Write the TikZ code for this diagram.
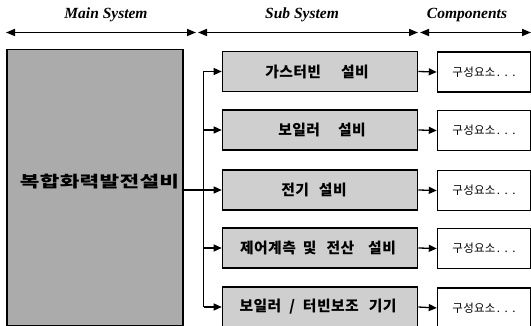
\documentclass[tikz,border=0pt]{standalone}
\usepackage{fontspec}
\setmainfont{Liberation Serif}
\newfontfamily\krsub[LetterSpace=3]{Noto Sans CJK KR}
\newfontfamily\krmain[LetterSpace=2,FakeStretch=1.35]{Noto Sans CJK KR}
\newfontfamily\krcomp[LetterSpace=2]{Noto Sans CJK KR}
\usetikzlibrary{arrows.meta}
\definecolor{mainfill}{HTML}{ABABAB}
\definecolor{subfill}{HTML}{CFCFCF}
\newcommand{\wsp}[1]{\hspace*{#1pt}}
\newcommand{\mydots}{\hspace*{1.5pt}.\hspace*{4.5pt}.\hspace*{4.5pt}.}
\tikzset{
  x=1pt,y=-1pt,
  mainbox/.style={draw=black,line width=1.6pt,fill=mainfill,minimum width=176pt,minimum height=276pt,inner sep=0pt},
  subbox/.style={draw=black,line width=1.6pt,fill=subfill,minimum width=195pt,minimum height=40pt,inner sep=0pt},
  subtext/.style={inner sep=0pt,font=\krsub\bfseries\fontsize{14.8}{15}\selectfont},
  compbox/.style={draw=black,line width=1.4pt,fill=white,minimum width=93pt,minimum height=40pt,inner sep=0pt,font=\krcomp\fontsize{11.5}{12}\selectfont},
  conn/.style={line width=1.3pt,-{Triangle[length=8pt,width=7pt]}},
  trunkline/.style={line width=1.3pt},
  header/.style={font=\bfseries\itshape\fontsize{15.5}{16}\selectfont,inner sep=0pt},
  hdrarrow/.style={line width=1.6pt,{Triangle[length=9pt,width=7pt]}-{Triangle[length=9pt,width=7pt]}},
  maintext/.style={font=\krmain\bfseries\fontsize{15.8}{17}\selectfont,inner sep=0pt}
}
\begin{document}
\begin{tikzpicture}
\useasboundingbox (0,0) rectangle (531,326);
% headers
\node[header] (hmain) at (106,15) {Main System};
\node[header] (hsub) at (302,15) {Sub System};
\node[header] (hcomp) at (467,15) {Components};
\coordinate (a1) at (6,32.5);
\coordinate (a2) at (196,32.5);
\coordinate (b1) at (198,32.5);
\coordinate (b2) at (418,32.5);
\coordinate (c1) at (420,32.5);
\coordinate (c2) at (531,32.5);
\draw[hdrarrow] (a1) -- (a2);
\draw[hdrarrow] (b1) -- (b2);
\draw[hdrarrow] (c1) -- (c2);
% main
\node[mainbox] (main) at (95,187.5) {};
\node[maintext] (mtext) at (99.5,182) {복합화력발전설비};
% sub boxes
\node[subbox] (s1) at (320,71.5) {};
\node[subbox] (s2) at (320,130) {};
\node[subbox] (s3) at (320,190) {};
\node[subbox] (s4) at (320,248) {};
\node[subbox] (s5) at (320,307) {};
\node[subtext] (t1) at (317,71.5) {가스터빈\wsp{20}설비};
\node[subtext] (t2) at (322,130) {보일러\wsp{18}설비};
\node[subtext] (t3) at (314,190) {전기\wsp{10}설비};
\node[subtext] (t4) at (318,248) {제어계측\wsp{7}및\wsp{10}전산\wsp{14}설비};
\node[subtext] (t5) at (318,307) {보일러\wsp{8}/\wsp{8}터빈보조\wsp{10}기기};
% component boxes
\node[compbox] (k1) at (484,72) {구성요소\mydots};
\node[compbox] (k2) at (484,130.5) {구성요소\mydots};
\node[compbox] (k3) at (484,190.5) {구성요소\mydots};
\node[compbox] (k4) at (484,248.5) {구성요소\mydots};
\node[compbox] (k5) at (484,308) {구성요소\mydots};
% trunk
\coordinate (tx) at (203.5,0);
\draw[trunkline] (tx |- s1.west) -- (tx |- s5.west);
\draw[conn] (main.east |- s3.west) -- (s3.west);
\foreach \i in {1,2,4,5}{\draw[conn] (tx |- s\i.west) -- (s\i.west);}
\foreach \i in {1,...,5}{\draw[conn] (s\i.east) -- (k\i.west);}
\end{tikzpicture}
\end{document}
